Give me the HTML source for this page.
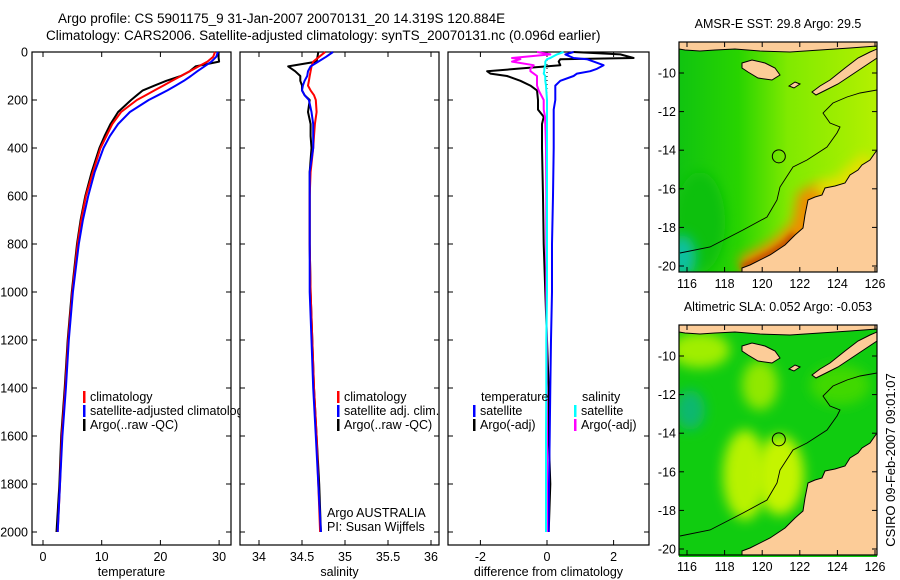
<!DOCTYPE html>
<html><head><meta charset="utf-8"><style>
html,body{margin:0;padding:0;background:#fff;}
svg{display:block;font-family:"Liberation Sans",sans-serif;}
</style></head><body>
<svg id="fig" xmlns="http://www.w3.org/2000/svg" width="900" height="580" viewBox="0 0 900 580">
<defs>
<filter id="blur6" x="-50%" y="-50%" width="200%" height="200%"><feGaussianBlur stdDeviation="6"/></filter>
<filter id="blur3" x="-50%" y="-50%" width="200%" height="200%"><feGaussianBlur stdDeviation="3"/></filter>
<clipPath id="clipMap1"><rect x="679" y="42" width="198" height="230"/></clipPath>
<clipPath id="clipMap2"><rect x="679" y="325" width="198" height="232"/></clipPath>
<linearGradient id="sstGrad" x1="0" x2="1" y1="0" y2="0">
<stop offset="0" stop-color="#10c410"/><stop offset="0.3" stop-color="#28d400"/><stop offset="0.55" stop-color="#80ea00"/><stop offset="1" stop-color="#b4f000"/></linearGradient>
</defs>
<g id="titles">
<text x="58" y="23" font-size="13.5">Argo profile: CS 5901175_9 31-Jan-2007 20070131_20 14.319S 120.884E</text>
<text x="46" y="40" font-size="13.5">Climatology: CARS2006. Satellite-adjusted climatology: synTS_20070131.nc (0.096d earlier)</text>
</g>
<g id="p1"></g>
<g id="p2"></g>
<g id="p3"></g>
<g id="m1"></g>
<g id="m2"></g>
<text transform="translate(895,460) rotate(-90)" text-anchor="middle" font-size="13">CSIRO 09-Feb-2007 09:01:07</text>
</svg>
<script>
var depths=[0,20,40,60,80,100,120,140,160,180,200,250,300,350,400,500,600,700,800,1000,1200,1400,1600,1800,2000];
var tempClim=[29.3,29,28,26.5,25,23.5,22,20.5,19,17.5,16,13.3,11.8,10.8,9.8,8.5,7.3,6.5,5.9,5,4.3,3.8,3.2,2.9,2.5];
var tempSat=[29.8,29.5,28.7,27.5,26.3,25.2,24,22.6,21.2,19.6,18,14.8,12.8,11.4,10.3,8.8,7.7,6.8,6.1,5.1,4.4,3.9,3.3,2.9,2.5];
var tempArgo=[29.8,29.9,30,26,25,23.5,21,19,17,16,15,12.8,11.5,10.5,9.6,8.3,7.2,6.4,5.8,4.9,4.2,3.7,3.1,2.8,2.3];
var saltClim=[34.77,34.7,34.63,34.61,34.6,34.59,34.58,34.57,34.6,34.64,34.66,34.67,34.65,34.64,34.63,34.6,34.59,34.59,34.59,34.6,34.62,34.64,34.67,34.69,34.71];
var saltSat=[34.86,34.78,34.69,34.6,34.57,34.56,34.53,34.51,34.5,34.53,34.58,34.61,34.63,34.63,34.63,34.59,34.59,34.59,34.59,34.59,34.61,34.63,34.66,34.69,34.72];
var saltArgo=[34.69,34.68,34.67,34.34,34.42,34.48,34.48,34.5,34.5,34.53,34.59,34.57,34.6,34.6,34.61,34.59,34.59,34.59,34.59,34.6,34.62,34.64,34.67,34.7,34.72];
var diffDepths=[0,10,25,30,40,55,70,80,90,100,120,140,160,200,240,270,300,350,400,600,800,1000,1200,1400,1600,1800,2000];
var dTempArgo=[0.8,2.2,2.6,0.4,0.35,0.4,-0.9,-1.8,-1.7,-1.2,-0.8,-0.5,-0.3,-0.27,-0.27,-0.1,-0.15,-0.15,-0.15,-0.12,-0.1,-0.05,0,0.05,0.05,0.1,0.05];
var dTempSat=[0.8,0.55,0.8,1.2,1.4,1.7,1.5,1.3,0.9,0.8,0.4,0.25,0.25,0.25,0.2,0.2,0.2,0.2,0.2,0.18,0.15,0.15,0.12,0.1,0.08,0.06,0.05];
var dSaltArgo=[-0.3,0.1,-1.05,-0.8,-1.05,-0.4,-0.5,-0.5,-0.4,-0.3,-0.3,-0.3,-0.25,-0.1,-0.1,-0.06,-0.05,-0.04,-0.03,-0.02,-0.02,-0.02,-0.01,-0.01,0,0,0];
var dSaltSat=[0.5,0.3,0.1,0,-0.05,-0.05,-0.08,-0.08,-0.1,-0.05,-0.05,-0.03,-0.02,0,0,0,0,0,0,0,0,0,-0.02,-0.02,-0.03,-0.03,-0.03];
var depthTicks=[0,200,400,600,800,1000,1200,1400,1600,1800,2000];
var tempTicks=[0,10,20,30];
var saltTicks=[34,34.5,35,35.5,36];
var saltTickLabels=["34","34.5","35","35.5","36"];
var diffTicks=[-2,0,2];
var lonTicks=[116,118,120,122,124,126];
var latTicks=[-10,-12,-14,-16,-18,-20];
var argoLon=120.884, argoLat=-14.319;

var NS="http://www.w3.org/2000/svg";
function mk(tag,attrs,parent){var e=document.createElementNS(NS,tag);for(var k in attrs)e.setAttribute(k,attrs[k]);if(parent)parent.appendChild(e);return e;}
var TOP=52,BOT=545;
function yDepth(d){return TOP+d*0.24;}

function panel(g,x0,x1,xs,xticks,xlabels,xtitle,showY){
  var r=mk('rect',{x:x0,y:TOP,width:x1-x0,height:BOT-TOP,fill:'#fff',stroke:'#000','stroke-width':1.2},g);
  
  
  depthTicks.forEach(function(d){
    var y=yDepth(d);
    mk('line',{x1:x0,x2:x0+5,y1:y,y2:y,stroke:'#000'},g);
    mk('line',{x1:x1-5,x2:x1,y1:y,y2:y,stroke:'#000'},g);
    if(showY){var t=mk('text',{x:x0-4,y:y+4.5,'text-anchor':'end','font-size':12.5},g);t.textContent=String(d);
      
      }
  });
  xticks.forEach(function(v,i){
    var x=xs(v);
    mk('line',{x1:x,x2:x,y1:BOT,y2:BOT-5,stroke:'#000'},g);
    mk('line',{x1:x,x2:x,y1:TOP,y2:TOP+5,stroke:'#000'},g);
    var t=mk('text',{x:x,y:BOT+16,'text-anchor':'middle','font-size':12.5},g);t.textContent=xlabels[i];
    
    
  });
  var tt=mk('text',{x:(x0+x1)/2,y:576,'text-anchor':'middle','font-size':12.5},g);tt.textContent=xtitle;
  
  
}
function line(g,xs,vals,ds,color,w,name){
  var pts=vals.map(function(v,i){return xs(v).toFixed(1)+','+yDepth(ds[i]).toFixed(1);}).join(' ');
  var p=mk('polyline',{points:pts,fill:'none',stroke:color,'stroke-width':w,'stroke-linejoin':'round'},g);
  
  
}
function legend(g,x,y,color,label,name){
  if(color){mk('rect',{x:x,y:y-10,width:2.5,height:12,fill:color},g);}
  var t=mk('text',{x:x+7,y:y,'font-size':12.5},g);t.textContent=label;
  
  
}
var g1=document.getElementById('p1');
var xT=function(v){return 43+v*5.87;};
panel(g1,32,231,xT,tempTicks,tempTicks.map(String),'temperature',true);
line(g1,xT,tempArgo,depths,'#000',2,'argo-temperature-line');
line(g1,xT,tempClim,depths,'#f00',2,'climatology-temperature-line');
line(g1,xT,tempSat,depths,'#00f',2,'satellite-temperature-line');
legend(g1,83,401,'#f00','climatology','legend-climatology');
legend(g1,83,415,'#00f','satellite-adjusted climatology','legend-satellite');
legend(g1,83,429,'#000','Argo(..raw -QC)','legend-argo');
var g2=document.getElementById('p2');
var xS=function(v){return 259+(v-34)*86;};
panel(g2,240,439,xS,saltTicks,saltTickLabels,'salinity',false);
line(g2,xS,saltArgo,depths,'#000',2,'argo-salinity-line');
line(g2,xS,saltClim,depths,'#f00',2,'climatology-salinity-line');
line(g2,xS,saltSat,depths,'#00f',2,'satellite-salinity-line');
legend(g2,337,401,'#f00','climatology','legend-climatology');
legend(g2,337,415,'#00f','satellite adj. clim.','legend-satellite');
legend(g2,337,429,'#000','Argo(..raw -QC)','legend-argo');
legend(g2,320,517,null,'Argo AUSTRALIA','argo-australia-label');
legend(g2,320,531,null,'PI: Susan Wijffels','pi-label');
var g3=document.getElementById('p3');
var xD=function(v){return 547+v*33.3;};
panel(g3,448,649,xD,diffTicks,diffTicks.map(String),'difference from climatology',false);
mk('line',{x1:xD(0),x2:xD(0),y1:TOP,y2:yDepth(2000),stroke:'#000','stroke-dasharray':'1,3'},g3);
line(g3,xD,dTempArgo,diffDepths,'#000',2,'argo-temp-diff-line');
line(g3,xD,dTempSat,diffDepths,'#00f',2,'satellite-temp-diff-line');
line(g3,xD,dSaltArgo,diffDepths,'#f0f',2,'argo-salt-diff-line');
line(g3,xD,dSaltSat,diffDepths,'#0ff',2,'satellite-salt-diff-line');
legend(g3,474,401,null,'temperature','legend-temperature-header');
legend(g3,473,415,'#00f','satellite','legend-temp-satellite');
legend(g3,473,429,'#000','Argo(-adj)','legend-temp-argo');
legend(g3,575,401,null,'salinity','legend-salinity-header');
legend(g3,574,415,'#0ff','satellite','legend-salt-satellite');
legend(g3,574,429,'#f0f','Argo(-adj)','legend-salt-argo');

var coast=[[742,272],[742,268],[750,265],[770,255],[785,245],[795,235],[803,228],[805,215],[808,200],[815,197],[822,195],[825,188],[835,186],[845,183],[850,175],[858,170],[862,165],[870,160],[877,150],[877,272]];
var topStrip=[[679,42],[877,42],[877,46],[850,48],[820,50],[790,52],[760,51],[735,49],[715,50],[700,51],[685,50],[679,49]];
var island1=[[742,63],[752,60],[765,63],[775,68],[780,75],[772,80],[758,78],[748,72],[742,68]];
var island2=[[812,92],[820,86],[830,80],[845,68],[858,58],[870,52],[877,49],[877,58],[865,66],[850,76],[838,84],[826,90],[816,95]];
var island3=[[789,86],[795,82],[800,84],[794,88]];
var isobath=[[680,253],[710,247],[743,230],[767,217],[777,200],[780,187],[793,167],[807,160],[827,147],[837,133],[840,127],[830,123],[823,113],[833,103],[847,97],[860,93],[877,90]];
function pts(a,dy){return a.map(function(p){return p[0]+','+(p[1]+dy);}).join(' ');}
function map(g,dy,clip,title,kind){
  var top=42+dy;
  var t=mk('text',{x:778,y:top-14,'text-anchor':'middle','font-size':12.5},g);t.textContent=title;
  
  
  var c=mk('g',{'clip-path':'url(#'+clip+')'},g);
  if(kind==='sst'){
    mk('rect',{x:679,y:top,width:198,height:232,fill:'url(#sstGrad)'},c);
    mk('ellipse',{cx:700,cy:top+180,rx:25,ry:50,fill:'#10c010',filter:'url(#blur6)'},c);
    mk('ellipse',{cx:682,cy:top+215,rx:14,ry:22,fill:'#10c0a0',filter:'url(#blur6)'},c);
    mk('polyline',{points:pts(coast.slice(1,12),dy),fill:'none',stroke:'#f08c00','stroke-width':22,filter:'url(#blur6)'},c);
    mk('polyline',{points:pts(coast.slice(1,6),dy),fill:'none',stroke:'#c05000','stroke-width':8,filter:'url(#blur3)'},c);
    mk('polyline',{points:pts(coast.slice(10,18),dy),fill:'none',stroke:'#e8e000','stroke-width':16,filter:'url(#blur6)'},c);
  } else {
    mk('rect',{x:679,y:top,width:198,height:232,fill:'#10cc10'},c);
    [[700,top+25,30,18,'#a0ee00'],[745,top+150,22,45,'#b8f200'],[780,top+150,24,40,'#c4f400'],[760,top+60,18,25,'#90e800'],[690,top+85,15,20,'#10b870'],[840,top+60,30,20,'#40d800']].forEach(function(b){
      mk('ellipse',{cx:b[0],cy:b[1],rx:b[2],ry:b[3],fill:b[4],filter:'url(#blur6)'},c);
    });
  }
  mk('polyline',{points:pts(isobath,dy),fill:'none',stroke:'#000','stroke-width':0.9},c);
  [coast,topStrip,island1,island2,island3].forEach(function(a){
    var p=mk('polygon',{points:pts(a,dy),fill:'#fccc98',stroke:'#000','stroke-width':1},c);
    
    
  });
  var xl=function(lon){return 687+(lon-116)*18.8;};
  var yl=function(lat){return 73+dy+(-10-lat)*19.3;};
  var ci=mk('circle',{cx:xl(argoLon),cy:yl(argoLat),r:6.5,fill:'none',stroke:'#000','stroke-width':1},c);
  
  
  var fr=mk('rect',{x:679,y:top,width:198,height:230,fill:'none',stroke:'#000','stroke-width':1.2},g);
  
  
  lonTicks.forEach(function(v){
    var x=xl(v);
    mk('line',{x1:x,x2:x,y1:top+230,y2:top+225,stroke:'#000'},g);
    mk('line',{x1:x,x2:x,y1:top,y2:top+5,stroke:'#000'},g);
    var l=mk('text',{x:x,y:top+246,'text-anchor':'middle','font-size':12.5},g);l.textContent=String(v);
    
    
  });
  latTicks.forEach(function(v){
    var y=yl(v);
    mk('line',{x1:679,x2:684,y1:y,y2:y,stroke:'#000'},g);
    mk('line',{x1:872,x2:877,y1:y,y2:y,stroke:'#000'},g);
    var l=mk('text',{x:676,y:y+4.5,'text-anchor':'end','font-size':12.5},g);l.textContent=String(v);
    
    
  });
}
map(document.getElementById('m1'),0,'clipMap1','AMSR-E SST: 29.8 Argo: 29.5','sst');
map(document.getElementById('m2'),283,'clipMap2','Altimetric SLA: 0.052 Argo: -0.053','sla');
</script>
</body></html>
